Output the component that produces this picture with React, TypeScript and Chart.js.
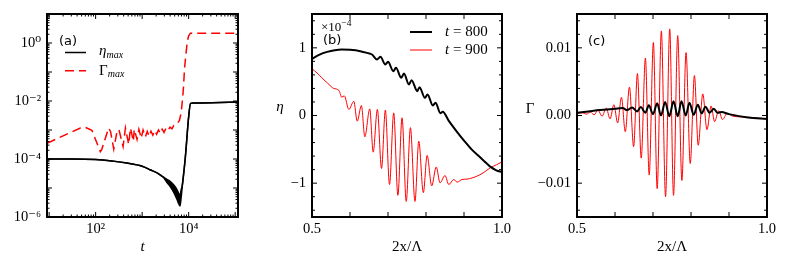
import { useEffect, useRef } from 'react';
import { Chart, registerables } from 'chart.js';
Chart.register(...registerables);

const SERIF = '"Liberation Serif", "DejaVu Serif", serif';
const SANS = '"DejaVu Sans", "Liberation Sans", sans-serif';

// ---------- Panel (a): maxima vs time (log-log) ----------
const aT = [9, 32, 100, 200, 468, 1000, 1479, 2089, 2818, 3388, 3981, 4786, 5623, 6166, 6531, 6918, 7244, 8511, 10000, 10965, 12589, 31623, 115000];
const aEtaUpper = [1.0e-4, 1.0e-4, 9.55e-5, 8.71e-5, 7.24e-5, 5.62e-5, 4.27e-5, 3.31e-5, 2.4e-5, 2.0e-5, 1.7e-5, 1.26e-5, 8.7e-6, 6.3e-6, 5.6e-6, 8.9e-6, 1.12e-5, 1.26e-4, 2.95e-3, 8.3e-3, 8.5e-3, 8.7e-3, 9.3e-3];
const aEtaLower = [1.0e-4, 1.0e-4, 9.55e-5, 8.71e-5, 7.24e-5, 5.62e-5, 4.27e-5, 3.31e-5, 2.4e-5, 1.58e-5, 1.15e-5, 7.1e-6, 4.0e-6, 2.8e-6, 2.4e-6, 5.0e-6, 1.07e-5, 1.2e-4, 2.8e-3, 8.3e-3, 8.5e-3, 8.7e-3, 9.3e-3];
const aGammaT = [9, 20, 47, 60, 83, 107, 126, 135, 190, 209, 245, 288, 316, 389, 437, 513, 562, 646, 676, 776, 851, 955, 1047, 1175, 1288, 1413, 1549, 1698, 1862, 2042, 2239, 2455, 2692, 2951, 3236, 3548, 3981, 4365, 4786, 5248, 5754, 6310, 6918, 7413, 7762, 8128, 8710, 9333, 10000, 10965, 115000];
const aGamma = [3.5e-4, 6.3e-4, 1.17e-3, 1.23e-3, 9.8e-4, 3.5e-4, 1.8e-4, 2.1e-4, 1.17e-3, 8.9e-4, 2.2e-4, 8.9e-4, 1.05e-3, 2.7e-4, 1.17e-3, 3.2e-4, 1.17e-3, 4.1e-4, 1.05e-3, 4.7e-4, 1.05e-3, 5.2e-4, 1.0e-3, 5.8e-4, 8.9e-4, 6.0e-4, 9.1e-4, 6.6e-4, 9.5e-4, 7.1e-4, 1.0e-3, 7.6e-4, 1.07e-3, 8.3e-4, 1.12e-3, 9.3e-4, 1.26e-3, 1.1e-3, 1.45e-3, 1.5e-3, 1.74e-3, 2.1e-3, 4.0e-3, 1.26e-2, 3.16e-2, 0.126, 0.4, 1.12, 1.78, 2.19, 2.19];
const aXTicks = [100, 10000];
const aXTickLabels = ['10²', '10⁴'];
const aYTicks = [1e-6, 1e-4, 1e-2, 1];
const aYTickLabels = ['10⁻⁶', '10⁻⁴', '10⁻²', '10⁰'];

// ---------- Panel (b): eta profiles (units of 1e-4) ----------
const bX800 = [0.5, 0.52, 0.54, 0.56, 0.578, 0.6, 0.627, 0.645, 0.658, 0.671, 0.68, 0.693, 0.7, 0.714, 0.721, 0.735, 0.742, 0.755, 0.762, 0.777, 0.783, 0.797, 0.804, 0.818, 0.825, 0.838, 0.844, 0.86, 0.88, 0.9, 0.92, 0.943, 0.96, 0.97, 0.985, 1.0];
const bEta800 = [0.837, 0.9, 0.94, 0.965, 0.975, 0.97, 0.951, 0.925, 0.901, 0.828, 0.867, 0.754, 0.793, 0.655, 0.704, 0.557, 0.621, 0.458, 0.522, 0.36, 0.419, 0.261, 0.31, 0.148, 0.187, 0.035, 0.055, -0.08, -0.23, -0.37, -0.5, -0.62, -0.71, -0.76, -0.81, -0.837];
const bX900 = [0.5, 0.513, 0.526, 0.54, 0.55, 0.557, 0.565, 0.572, 0.578, 0.585, 0.597, 0.61, 0.619, 0.63, 0.639, 0.652, 0.661, 0.672, 0.683, 0.693, 0.704, 0.715, 0.726, 0.737, 0.748, 0.759, 0.771, 0.781, 0.793, 0.803, 0.815, 0.827, 0.837, 0.85, 0.86, 0.873, 0.882, 0.895, 0.908, 0.934, 0.95, 0.97, 0.985, 1.0];
const bEta900 = [0.69, 0.63, 0.557, 0.483, 0.43, 0.4, 0.39, 0.36, 0.27, 0.29, 0.089, 0.21, -0.084, 0.148, -0.315, 0.098, -0.542, 0.089, -0.783, 0.079, -1.02, 0.039, -1.18, -0.034, -1.27, -0.18, -1.27, -0.38, -1.14, -0.59, -1.04, -0.76, -0.995, -0.887, -1.02, -0.946, -0.985, -0.946, -0.94, -0.897, -0.85, -0.77, -0.73, -0.685];
const bYTicks = [-1, 0, 1];
const bYTickLabels = ['−1', '0', '1'];

// ---------- Panel (c): Gamma profiles ----------
const cX800 = [0.5, 0.53, 0.56, 0.6, 0.62, 0.632, 0.645, 0.658, 0.668, 0.68, 0.689, 0.7, 0.711, 0.721, 0.732, 0.743, 0.754, 0.765, 0.775, 0.786, 0.796, 0.807, 0.818, 0.828, 0.838, 0.849, 0.86, 0.87, 0.88, 0.9, 0.95, 1.0];
const cGamma800 = [0.0004, 0.0006, 0.0008, 0.001, 0.0011, 0.0008, 0.0012, 0.0006, 0.00125, 0.0004, 0.0015, 0.0002, 0.0018, 0.0, 0.002, -0.0001, 0.0021, -0.0001, 0.0021, 0.0, 0.0019, 0.0001, 0.0016, 0.0003, 0.0013, 0.0004, 0.001, 0.0004, 0.0005, 0.0002, -0.0003, -0.0005];
const cX900 = [0.5, 0.515, 0.525, 0.535, 0.545, 0.555, 0.566, 0.577, 0.587, 0.597, 0.607, 0.617, 0.627, 0.638, 0.649, 0.659, 0.669, 0.68, 0.69, 0.701, 0.711, 0.722, 0.733, 0.744, 0.754, 0.765, 0.776, 0.787, 0.798, 0.809, 0.819, 0.831, 0.842, 0.853, 0.862, 0.873, 0.883, 0.895, 0.91, 0.93, 0.96, 1.0];
const cGamma900 = [0.0003, 0.0004, 0.0002, 0.0005, 0.0001, 0.0008, -0.0001, 0.0011, -0.0005, 0.0016, -0.0011, 0.0027, -0.0024, 0.0042, -0.0046, 0.0062, -0.0063, 0.0085, -0.0088, 0.0108, -0.0108, 0.0125, -0.012, 0.0128, -0.0118, 0.0118, -0.0096, 0.0093, -0.0071, 0.0059, -0.0044, 0.0032, -0.0021, 0.0014, -0.0009, 0.0007, -0.0006, 0.0003, -0.0001, -0.0002, -0.0003, -0.0005];
const cYTicks = [-0.01, 0, 0.01];
const cYTickLabels = ['−0.01', '0.00', '0.01'];

// shared x ticks for (b),(c)
const bcXTicks = [0.5, 1.0];
const bcXTickLabels = ['0.5', '1.0'];
const bcXMajor = [0.5, 0.6, 0.7, 0.8, 0.9, 1.0];

const TICK_FONT = 14.5;

const pts = (xs: number[], ys: number[]) => xs.map((x, i) => ({ x, y: ys[i] }));

function xScale(type: string, min: number, max: number, ticks: number[], labels: string[], title: string, italic: boolean) {
  return {
    type, min, max, bounds: 'data',
    grid: { display: false, drawTicks: false },
    border: { display: false },
    afterBuildTicks: (s: any) => { s.ticks = ticks.map((v) => ({ value: v })); },
    afterFit: (s: any) => { s.height = 54; s.paddingLeft = 0; s.paddingRight = 0; },
    ticks: {
      autoSkip: false, maxRotation: 0, minRotation: 0, padding: 3, color: '#000',
      font: { family: SERIF, size: TICK_FONT },
      callback: (_v: any, i: number) => labels[i],
    },
    title: { display: true, text: title, color: '#000', font: { family: SERIF, size: 15, style: italic ? 'italic' : 'normal' }, padding: { top: 0, bottom: 15 } },
  };
}

function yScale(type: string, min: number, max: number, ticks: number[], labels: string[], width: number) {
  return {
    type, min, max, bounds: 'data',
    grid: { display: false, drawTicks: false },
    border: { display: false },
    afterBuildTicks: (s: any) => { s.ticks = ticks.map((v) => ({ value: v })); },
    afterFit: (s: any) => { s.width = width; s.paddingTop = 0; s.paddingBottom = 0; },
    ticks: {
      autoSkip: false, padding: 6, color: '#000',
      font: { family: SERIF, size: TICK_FONT },
      callback: (_v: any, i: number) => labels[i],
    },
  };
}

type Area = { left: number; right: number; top: number; bottom: number };
type Deco = {
  xMajor: number[]; xMinor: number[]; yMajor: number[]; yMinor: number[];
  majorLen: number; minorLen: number;
  draw: (ctx: CanvasRenderingContext2D, ca: Area) => void;
};

function runs(ctx: CanvasRenderingContext2D, x: number, y: number, list: [string, string, number][]) {
  let cx = x;
  for (const [t, f, dy] of list) {
    ctx.font = f;
    ctx.fillText(t, cx, y + dy);
    cx += ctx.measureText(t).width;
  }
}

function hline(ctx: CanvasRenderingContext2D, x0: number, x1: number, y: number) {
  ctx.beginPath();
  ctx.moveTo(x0, y);
  ctx.lineTo(x1, y);
  ctx.stroke();
}

function makeDeco(d: Deco) {
  return {
    id: 'deco',
    afterDraw(chart: any) {
      const ctx: CanvasRenderingContext2D = chart.ctx;
      const ca: Area = chart.chartArea;
      const xs = chart.scales.x;
      const ys = chart.scales.y;
      ctx.save();
      ctx.strokeStyle = '#000';
      ctx.lineWidth = 1;
      ctx.setLineDash([]);
      const xt = (vals: number[], len: number) => {
        ctx.beginPath();
        for (const v of vals) {
          const p = xs.getPixelForValue(v);
          if (p < ca.left - 0.5 || p > ca.right + 0.5) continue;
          ctx.moveTo(p, ca.bottom); ctx.lineTo(p, ca.bottom - len);
          ctx.moveTo(p, ca.top); ctx.lineTo(p, ca.top + len);
        }
        ctx.stroke();
      };
      const yt = (vals: number[], len: number) => {
        ctx.beginPath();
        for (const v of vals) {
          const p = ys.getPixelForValue(v);
          if (p < ca.top - 0.5 || p > ca.bottom + 0.5) continue;
          ctx.moveTo(ca.left, p); ctx.lineTo(ca.left + len, p);
          ctx.moveTo(ca.right, p); ctx.lineTo(ca.right - len, p);
        }
        ctx.stroke();
      };
      xt(d.xMajor, d.majorLen);
      xt(d.xMinor, d.minorLen);
      yt(d.yMajor, d.majorLen);
      yt(d.yMinor, d.minorLen);
      ctx.lineWidth = 2;
      ctx.strokeRect(ca.left, ca.top, ca.right - ca.left, ca.bottom - ca.top);
      ctx.fillStyle = '#000';
      ctx.textAlign = 'left';
      ctx.textBaseline = 'alphabetic';
      d.draw(ctx, ca);
      ctx.restore();
    },
  };
}

function logTicks(e0: number, e1: number) {
  const major: number[] = [];
  const minor: number[] = [];
  for (let e = e0; e <= e1; e++) {
    major.push(Math.pow(10, e));
    for (let k = 2; k <= 9; k++) minor.push(k * Math.pow(10, e));
  }
  return { major, minor };
}

function linMinor(from: number, to: number, step: number, skip: number) {
  const out: number[] = [];
  const n = Math.round((to - from) / step);
  for (let i = 0; i <= n; i++) {
    const v = from + i * step;
    const r = v / skip;
    if (Math.abs(r - Math.round(r)) > 1e-6) out.push(v);
  }
  return out;
}

const W = 263;
const H = 271;

export default function App() {
  const ra = useRef<HTMLCanvasElement>(null);
  const rb = useRef<HTMLCanvasElement>(null);
  const rc = useRef<HTMLCanvasElement>(null);

  useEffect(() => {
    Chart.defaults.font.family = SERIF;
    Chart.defaults.color = '#000';
    const common = (padRight: number) => ({
      responsive: false,
      animation: false as const,
      devicePixelRatio: 1,
      layout: { padding: { top: 14, right: padRight, left: 0, bottom: 0 } },
      plugins: { legend: { display: false }, tooltip: { enabled: false } },
      elements: { point: { radius: 0 } },
    });

    const lx = logTicks(0, 5);
    const ly = logTicks(-7, 1);

    const chartA = new Chart(ra.current!, {
      type: 'line',
      data: {
        datasets: [
          { label: 'η_max', data: pts(aT, aEtaUpper), borderColor: '#000', borderWidth: 1.5, fill: false, cubicInterpolationMode: 'monotone' },
          { label: 'η_max (band)', data: pts(aT, aEtaLower), borderColor: '#000', borderWidth: 1.5, backgroundColor: '#000', fill: '-1', cubicInterpolationMode: 'monotone' },
          { label: 'Γ_max', data: pts(aGammaT, aGamma), borderColor: '#ff0000', borderWidth: 1.5, borderDash: [9, 5], fill: false, tension: 0 },
        ],
      } as any,
      options: {
        ...common(25),
        scales: {
          x: xScale('logarithmic', 9, 115000, aXTicks, aXTickLabels, 't', true),
          y: yScale('logarithmic', 1e-6, 10, aYTicks, aYTickLabels, 47),
        },
      } as any,
      plugins: [makeDeco({
        xMajor: lx.major, xMinor: lx.minor, yMajor: ly.major, yMinor: ly.minor,
        majorLen: 5, minorLen: 2.5,
        draw: (ctx, ca) => {
          ctx.font = `13px ${SANS}`;
          ctx.fillText('(a)', ca.left + 12, ca.top + 30.5);
          ctx.strokeStyle = '#000';
          ctx.lineWidth = 1.5;
          ctx.setLineDash([]);
          hline(ctx, ca.left + 18, ca.left + 39, ca.top + 38.5);
          runs(ctx, ca.left + 52, ca.top + 41, [['η', `italic 15px ${SERIF}`, 0], ['max', `italic 10px ${SERIF}`, 3]]);
          ctx.strokeStyle = '#ff0000';
          ctx.setLineDash([9, 5]);
          hline(ctx, ca.left + 18, ca.left + 39, ca.top + 56.7);
          ctx.setLineDash([]);
          runs(ctx, ca.left + 52, ca.top + 61, [['Γ', `15px ${SERIF}`, 0], ['max', `italic 10px ${SERIF}`, 2]]);
        },
      })],
    });

    const chartB = new Chart(rb.current!, {
      type: 'line',
      data: {
        datasets: [
          { label: 't = 800', data: pts(bX800, bEta800), borderColor: '#000', borderWidth: 2, fill: false, cubicInterpolationMode: 'monotone' },
          { label: 't = 900', data: pts(bX900, bEta900), borderColor: '#ff0000', borderWidth: 1, fill: false, cubicInterpolationMode: 'monotone' },
        ],
      } as any,
      options: {
        ...common(24),
        scales: {
          x: xScale('linear', 0.5, 1.0, bcXTicks, bcXTickLabels, '2x/Λ', false),
          y: yScale('linear', -1.5, 1.5, bYTicks, bYTickLabels, 49),
        },
      } as any,
      plugins: [makeDeco({
        xMajor: bcXMajor, xMinor: [], yMajor: bYTicks, yMinor: linMinor(-1.4, 1.4, 0.2, 1),
        majorLen: 5, minorLen: 3,
        draw: (ctx, ca) => {
          runs(ctx, ca.left + 9, ca.top + 17, [['×10', `13px ${SERIF}`, 0], ['−4', `9.5px ${SERIF}`, -5]]);
          ctx.font = `13px ${SANS}`;
          ctx.fillText('(b)', ca.left + 11, ca.top + 30);
          ctx.strokeStyle = '#000';
          ctx.lineWidth = 2;
          hline(ctx, ca.left + 98, ca.left + 120, ca.top + 18);
          runs(ctx, ca.left + 133, ca.top + 22, [['t', `italic 15px ${SERIF}`, 0], [' = 800', `15px ${SERIF}`, 0]]);
          ctx.strokeStyle = '#ff0000';
          ctx.lineWidth = 1;
          hline(ctx, ca.left + 98, ca.left + 120, ca.top + 36);
          runs(ctx, ca.left + 133, ca.top + 40, [['t', `italic 15px ${SERIF}`, 0], [' = 900', `15px ${SERIF}`, 0]]);
          ctx.textAlign = 'center';
          ctx.font = `italic 15px ${SERIF}`;
          ctx.fillText('η', ca.left - 32, 111);
        },
      })],
    });

    const chartC = new Chart(rc.current!, {
      type: 'line',
      data: {
        datasets: [
          { label: 't = 800', data: pts(cX800, cGamma800), borderColor: '#000', borderWidth: 2, fill: false, cubicInterpolationMode: 'monotone' },
          { label: 't = 900', data: pts(cX900, cGamma900), borderColor: '#ff0000', borderWidth: 1, fill: false, cubicInterpolationMode: 'monotone' },
        ],
      } as any,
      options: {
        ...common(22),
        scales: {
          x: xScale('linear', 0.5, 1.0, bcXTicks, bcXTickLabels, '2x/Λ', false),
          y: yScale('linear', -0.015, 0.015, cYTicks, cYTickLabels, 51),
        },
      } as any,
      plugins: [makeDeco({
        xMajor: bcXMajor, xMinor: [], yMajor: cYTicks, yMinor: linMinor(-0.014, 0.014, 0.002, 0.01),
        majorLen: 5, minorLen: 3,
        draw: (ctx, ca) => {
          ctx.font = `13px ${SANS}`;
          ctx.fillText('(c)', ca.left + 11, ca.top + 30.5);
          ctx.textAlign = 'center';
          ctx.font = `15px ${SERIF}`;
          ctx.fillText('Γ', ca.left - 47, 113);
        },
      })],
    });

    return () => { chartA.destroy(); chartB.destroy(); chartC.destroy(); };
  }, []);

  const cs = (left: number): React.CSSProperties => ({ position: 'absolute', left, top: 0, width: W, height: H });
  return (
    <div style={{ position: 'absolute', left: 0, top: 0, width: 789, height: 271, background: '#fff' }}>
      <canvas ref={ra} width={W} height={H} style={cs(0)} />
      <canvas ref={rb} width={W} height={H} style={cs(263)} />
      <canvas ref={rc} width={W} height={H} style={cs(526)} />
    </div>
  );
}
